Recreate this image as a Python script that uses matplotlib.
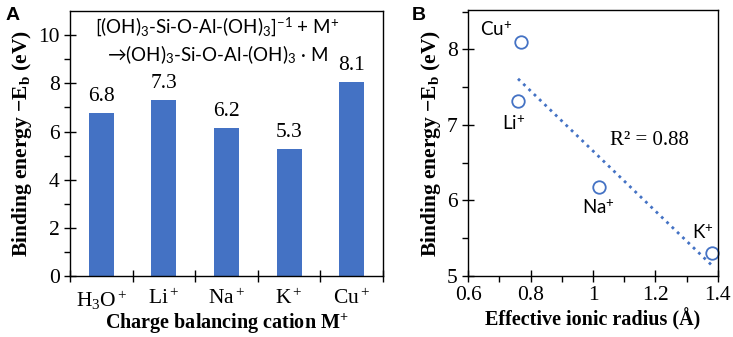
import numpy as np
import matplotlib

matplotlib.use("Agg")
from matplotlib import pyplot as plt

plt.rcParams["mathtext.fontset"] = "custom"
plt.rcParams["mathtext.rm"] = "Liberation Serif"
plt.rcParams["mathtext.it"] = "Liberation Serif:italic"
plt.rcParams["mathtext.bf"] = "Liberation Serif:bold"
plt.rcParams["mathtext.sf"] = "Lato"
plt.rcParams["font.family"] = ["Liberation Serif", "DejaVu Serif"]

BLUE = "#4472C4"
SANS = ["Lato", "DejaVu Sans"]

# panel A data
cations = ["H$_3$O$^+$", "Li$^+$", "Na$^+$", "K$^+$", "Cu$^+$"]
binding = [6.78, 7.31, 6.15, 5.29, 8.07]
binding_labels = ["6.8", "7.3", "6.2", "5.3", "8.1"]

# panel B data
ion_names = ["Cu$^\\mathsf{+}$", "Li$^\\mathsf{+}$", "Na$^\\mathsf{+}$", "K$^\\mathsf{+}$"]
radius = [0.77, 0.76, 1.02, 1.38]
energy = [8.10, 7.32, 6.18, 5.30]
name_pos = [(0.69, 8.26), (0.745, 7.02), (1.016, 5.9), (1.352, 5.58)]

ylabel = r"Binding energy −E$_\mathbf{b}$ (eV)"
eq1 = r"[(OH)$_\mathsf{3}$-Si-O-Al-(OH)$_\mathsf{3}$]$^\mathsf{-1}$ + M$^\mathsf{+}$"
eq2 = r"→(OH)$_\mathsf{3}$-Si-O-Al-(OH)$_\mathsf{3}$ · M"

fig = plt.figure(figsize=(7.33, 3.37), dpi=100)

# ---- panel A
ax = fig.add_axes([0.0955, 0.181, 0.427, 0.786])
x = np.arange(len(cations))
ax.bar(x, binding, width=0.4, color=BLUE)
for xi, v, lab in zip(x, binding, binding_labels):
    ax.text(xi, v + 0.28, lab, ha="center", va="bottom", fontsize=15.5)
ax.set_xlim(-0.5, len(cations) - 0.5)
ax.set_ylim(0, 11)
ax.set_yticks([0, 2, 4, 6, 8, 10])
ax.set_yticks([1, 3, 5, 7, 9], minor=True)
ax.set_xticks(np.arange(-0.5, len(cations)))
ax.set_xticklabels([])
ax.set_xticks(x, minor=True)
ax.set_xticklabels(cations, minor=True, fontsize=15.5)
ax.tick_params(axis="x", which="minor", length=0, pad=9)
ax.tick_params(axis="x", which="major", direction="inout", length=9, width=1)
ax.tick_params(axis="y", which="major", direction="inout", length=8, width=1,
               labelsize=15.5)
ax.tick_params(axis="y", which="minor", direction="out", length=4, width=1)
ax.set_xlabel(r"Charge balancing cation M$^\mathbf{+}$", fontsize=14.5,
              fontweight="bold", labelpad=0)
ax.set_ylabel(ylabel, fontsize=15.5, fontweight="bold", labelpad=3)
ax.text(1.85, 10.3, eq1, ha="center", va="center", fontsize=13.5, family=SANS)
ax.text(1.85, 9.2, eq2, ha="center", va="center", fontsize=13.5, family=SANS)
fig.text(0.008, 0.955, "A", fontsize=14, fontweight="bold",
         family=["Liberation Sans"], va="center")

# ---- panel B
bx = fig.add_axes([0.6385, 0.181, 0.341, 0.789])
bx.plot(radius, energy, "o", ms=9, mfc="none", mec=BLUE, mew=1.3, clip_on=False)
slope, icpt = np.polyfit(radius, energy, 1)
xf = np.array([min(radius), max(radius)])
bx.plot(xf, slope * xf + icpt, ":", color=BLUE, lw=2)
for name, (tx, ty) in zip(ion_names, name_pos):
    bx.text(tx, ty, name, ha="center", va="center", fontsize=13.5, family=SANS)
bx.text(1.18, 6.8, "R² = 0.88", ha="center", va="center", fontsize=15,
        family=["Liberation Serif", "DejaVu Serif"])
bx.set_xlim(0.6, 1.4)
bx.set_ylim(5, 8.52)
bx.set_xticks([0.6, 0.8, 1.0, 1.2, 1.4])
bx.set_xticklabels(["0.6", "0.8", "1", "1.2", "1.4"])
bx.set_xticks(np.arange(0.7, 1.4, 0.2), minor=True)
bx.set_yticks([5, 6, 7, 8])
bx.set_yticks([5.5, 6.5, 7.5, 8.5], minor=True)
bx.tick_params(which="major", direction="inout", length=8, width=1, labelsize=15.5)
bx.tick_params(which="minor", direction="out", length=4, width=1)
bx.set_xlabel("Effective ionic radius (Å)", fontsize=14.5, fontweight="bold",
              labelpad=2)
bx.set_ylabel(ylabel, fontsize=15.5, fontweight="bold", labelpad=3)
fig.text(0.562, 0.955, "B", fontsize=14, fontweight="bold",
         family=["Liberation Sans"], va="center")

for a in (ax, bx):
    for s in a.spines.values():
        s.set_linewidth(1.0)

fig.savefig("out.png", dpi=100)
